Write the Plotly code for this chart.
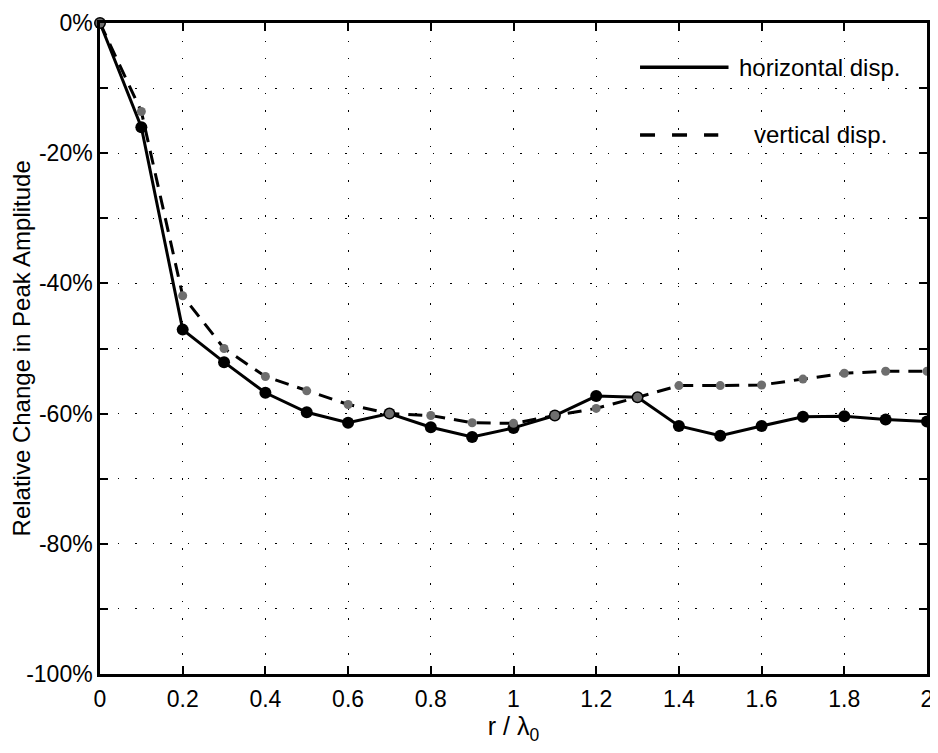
import plotly.graph_objects as go

r_lambda = [0.0, 0.1, 0.2, 0.3, 0.4, 0.5, 0.6, 0.7, 0.8, 0.9, 1.0,
            1.1, 1.2, 1.3, 1.4, 1.5, 1.6, 1.7, 1.8, 1.9, 2.0]
horizontal_disp = [0.0, -16.0, -47.1, -52.1, -56.8, -59.8, -61.4, -60.0, -62.1, -63.6, -62.2,
                   -60.3, -57.3, -57.5, -61.9, -63.4, -61.9, -60.5, -60.4, -60.9, -61.2]
vertical_disp = [0.0, -13.6, -41.9, -50.0, -54.3, -56.5, -58.6, -60.0, -60.3, -61.4, -61.5,
                 -60.3, -59.2, -57.5, -55.7, -55.7, -55.6, -54.7, -53.8, -53.5, -53.5]

y_tickvals = [0, -10, -20, -30, -40, -50, -60, -70, -80, -90, -100]
y_ticktext = ["0%", " ", "-20%", " ", "-40%", " ", "-60%", " ", "-80%", " ", "-100%"]
x_tickvals = [0, 0.2, 0.4, 0.6, 0.8, 1.0, 1.2, 1.4, 1.6, 1.8, 2.0]
x_ticktext = ["0", "0.2", "0.4", "0.6", "0.8", "1", "1.2", "1.4", "1.6", "1.8", "2"]

FONT = "Liberation Sans, Arial, Helvetica, sans-serif"

fig = go.Figure()
fig.add_trace(go.Scatter(
    x=r_lambda, y=horizontal_disp, mode="lines+markers", name="horizontal disp.",
    line=dict(color="black", width=3),
    marker=dict(color="black", size=12),
    showlegend=False, cliponaxis=False))
fig.add_trace(go.Scatter(
    x=r_lambda, y=vertical_disp, mode="lines+markers", name="vertical disp.",
    line=dict(color="black", width=3, dash="14px,9px"),
    marker=dict(color="#6e6e6e", size=9),
    showlegend=False, cliponaxis=False))

axis_common = dict(
    showline=True, linecolor="black", linewidth=2.5, mirror="ticks",
    ticks="inside", ticklen=8, tickwidth=2, tickcolor="black",
    showgrid=True, gridcolor="black", gridwidth=1.4, griddash="1.5px,16px",
    zeroline=False, automargin=False, ticklabeloverflow="allow",
    tickfont=dict(family=FONT, size=23, color="black"),
)

fig.update_xaxes(range=[0, 2], tickvals=x_tickvals, ticktext=x_ticktext,
                 ticklabelstandoff=3,
                 title=dict(text="r / λ<sub>0</sub>", font=dict(family=FONT, size=25, color="black"),
                            standoff=6),
                 **axis_common)
fig.update_yaxes(range=[-100, 0], tickvals=y_tickvals, ticktext=y_ticktext,
                 ticklabelstandoff=0, **axis_common)

# y-axis title placed as an annotation (sits closer than the widest tick label)
fig.add_annotation(xref="paper", yref="paper", x=-0.0944, y=0.5,
                   text="Relative Change in Peak Amplitude", textangle=-90,
                   showarrow=False, xanchor="center", yanchor="middle",
                   font=dict(family=FONT, size=24, color="black"))

# legend drawn manually
fig.add_shape(type="line", xref="paper", yref="paper", x0=0.653, x1=0.760, y0=0.932, y1=0.932,
              line=dict(color="black", width=3.5))
fig.add_shape(type="line", xref="paper", yref="paper", x0=0.653, x1=0.7476, y0=0.828, y1=0.828,
              line=dict(color="black", width=3.5, dash="15px,17px"))
fig.add_annotation(xref="paper", yref="paper", x=0.7705, y=0.932, text="horizontal disp.",
                   showarrow=False, xanchor="left", yanchor="middle",
                   font=dict(family=FONT, size=24, color="black"))
fig.add_annotation(xref="paper", yref="paper", x=0.7887, y=0.828, text="vertical disp.",
                   showarrow=False, xanchor="left", yanchor="middle",
                   font=dict(family=FONT, size=24, color="black"))

fig.update_layout(
    width=930, height=737,
    margin=dict(l=92, r=11, t=15, b=71),
    paper_bgcolor="white", plot_bgcolor="white",
    font=dict(family=FONT, color="black"),
)

fig.write_html("out.html")
